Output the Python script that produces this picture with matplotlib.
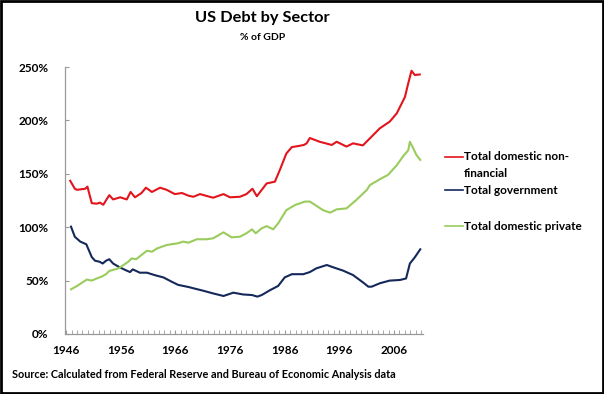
import matplotlib
matplotlib.use("Agg")
import matplotlib.pyplot as plt
from matplotlib.lines import Line2D
from matplotlib.patches import Rectangle
from matplotlib.ticker import FixedLocator, MultipleLocator, FuncFormatter

# ---- data ----
nonfin_years = [1946.75, 1947.6, 1948.0, 1949.5, 1949.9, 1950.7, 1951.6, 1952.2, 1952.8, 1953.9,
                1954.6, 1955.9, 1957.1, 1957.8, 1958.6, 1959.8, 1960.6, 1961.7, 1963.2, 1964.4,
                1965.9, 1967.2, 1968.4, 1969.3, 1970.5, 1972.9, 1974.8, 1976.0, 1977.8, 1979.0,
                1980.1, 1980.9, 1982.7, 1984.2, 1985.1, 1986.3, 1987.3, 1988.5, 1989.5, 1990.0,
                1990.6, 1992.4, 1994.6, 1995.5, 1997.3, 1998.5, 2000.3, 2001.9, 2003.4, 2005.2,
                2006.5, 2008.0, 2008.6, 2009.2, 2009.8, 2010.7]
nonfin_vals = [143.5, 136, 135, 136, 138, 122.5, 122, 123, 121, 130,
               126, 128, 126, 133, 128, 132, 137, 133, 137, 135,
               131, 132, 129.5, 128.5, 131, 127.6, 131, 128, 128.5, 131,
               136, 129, 141, 142.6, 153.5, 169, 175, 176, 177, 178.5,
               183.5, 180, 177, 180, 175.5, 178.5, 176.6, 184.8, 192.6, 198.8,
               206.6, 222, 234.7, 246.5, 242.5, 243]

gov_years = [1946.9, 1947.6, 1948.6, 1949.7, 1950.7, 1951.3, 1952.1, 1952.7, 1953.3, 1953.9,
             1954.6, 1955.6, 1956.8, 1957.7, 1958.2, 1959.5, 1960.8, 1962.3, 1963.8, 1965.3,
             1966.5, 1968.4, 1969.3, 1971.1, 1972.9, 1974.8, 1976.6, 1978.4, 1980.0, 1981.0,
             1981.8, 1983.3, 1984.8, 1986.0, 1987.3, 1989.4, 1990.6, 1991.8, 1993.7, 1994.9,
             1996.7, 1998.5, 2000.4, 2001.3, 2001.9, 2003.4, 2005.2, 2007.1, 2008.2, 2008.9,
             2009.8, 2010.8]
gov_vals = [100.5, 91, 86.5, 84, 72, 68.6, 67.7, 66, 68.6, 70,
            66, 63, 60, 58, 60.5, 57.4, 57.4, 55, 53, 49,
            46, 44, 42.8, 40.5, 38, 35.6, 38.7, 37, 36.5, 35,
            36.5, 41, 45, 53, 56, 56, 58, 61.5, 64.6, 62.4,
            59.3, 55.2, 48, 44.3, 44.3, 47.5, 50, 50.6, 52, 66,
            71.8, 79.3]

priv_years = [1946.9, 1948.0, 1948.9, 1949.8, 1950.7, 1951.6, 1952.5, 1953.3, 1953.9, 1954.6,
              1955.6, 1956.5, 1957.4, 1958.0, 1958.8, 1959.8, 1960.8, 1961.7, 1962.6, 1963.5,
              1964.4, 1965.6, 1966.5, 1967.4, 1968.4, 1969.9, 1971.7, 1972.9, 1974.8, 1976.3,
              1977.8, 1979.0, 1980.0, 1980.7, 1981.8, 1982.7, 1983.9, 1984.8, 1986.3, 1987.9,
              1989.7, 1990.6, 1991.8, 1993.0, 1994.3, 1995.5, 1997.3, 1999.1, 2001.0, 2001.6,
              2003.4, 2004.9, 2006.5, 2007.7, 2008.6, 2008.9, 2009.5, 2010.1, 2010.8]
priv_vals = [41.8, 45, 48, 51, 50, 52, 53.7, 56, 59, 60,
             61.5, 64.6, 67.7, 70.8, 70, 74, 78, 77, 80, 81.7,
             83.3, 84.3, 85, 86.5, 85.5, 88.7, 88.7, 89.6, 95.2, 90.5,
             91.1, 94.3, 98, 94.3, 99, 101, 98, 103.6, 116, 120.8,
             124, 124, 120, 116, 113.6, 116.7, 117.6, 125.5, 134.8, 139.5,
             144.9, 149, 158, 166.7, 172, 180, 174, 167.6, 163]

series_labels = ["Total domestic non-", "Total government", "Total domestic private"]
label_continuation = "financial"
tick_years = [1946, 1956, 1966, 1976, 1986, 1996, 2006]
y_ticks = [0, 50, 100, 150, 200, 250]

RED = "#E2141C"
NAVY = "#14285A"
GREEN = "#99CC5C"

plt.rcParams['font.family'] = ["Lato", "DejaVu Sans"]

fig = plt.figure(figsize=(6.04, 3.94), dpi=100)
ax = fig.add_axes([65/604, 1-334/394, (423-65)/604, (334-67)/394])

ax.plot(nonfin_years, nonfin_vals, color=RED, lw=1.5, solid_joinstyle="round")
ax.plot(gov_years, gov_vals, color=NAVY, lw=1.5, solid_joinstyle="round")
ax.plot(priv_years, priv_vals, color=GREEN, lw=1.5, solid_joinstyle="round")

ax.set_xlim(1945.8, 2011.3)
ax.set_ylim(0, 250)
for s in ["top", "right"]:
    ax.spines[s].set_visible(False)
for s in ["left", "bottom"]:
    ax.spines[s].set_color("#999999")
    ax.spines[s].set_linewidth(0.9)

ax.yaxis.set_major_locator(FixedLocator(y_ticks))
ax.yaxis.set_major_formatter(FuncFormatter(lambda v, p: f"{int(v)}%"))
ax.xaxis.set_major_locator(FixedLocator(tick_years))
ax.xaxis.set_minor_locator(MultipleLocator(1))
ax.tick_params(axis="y", direction="in", length=3, color="#999999", labelsize=8.5, pad=12)
ax.tick_params(axis="x", which="both", direction="in", length=3, color="#999999", labelsize=8.5, pad=8)
for lbl in ax.get_xticklabels() + ax.get_yticklabels():
    lbl.set_fontweight("bold")

fig.text(262/604, 1-18/394, "US Debt by Sector", ha="center", va="center", fontsize=11.8, fontweight="bold")
fig.text(263/604, 1-38/394, "% of GDP", ha="center", va="center", fontsize=7.5, fontweight="bold")
fig.text(12/604, 1-375/394, "Source: Calculated from Federal Reserve and Bureau of Economic Analysis data",
         ha="left", va="center", fontsize=7.8, fontweight="bold")

# legend drawn manually (Excel-style, handle aligned with first text line)
colors = [RED, NAVY, GREEN]
legend_rows = [157, 190, 226]
for text, col, ypix in zip(series_labels, colors, legend_rows):
    yf = 1 - ypix/394
    fig.add_artist(Line2D([445/604, 463/604], [yf, yf], color=col, lw=1.2, transform=fig.transFigure))
    fig.text(464/604, yf, text, ha="left", va="center", fontsize=8.5, fontweight="bold")
fig.text(464/604, 1 - 173/394, label_continuation, ha="left", va="center", fontsize=8.5, fontweight="bold")

fig.add_artist(Rectangle((0.002, 0.003), 0.996, 0.994, transform=fig.transFigure,
                         fill=False, edgecolor="black", lw=2))

fig.savefig("out.png", dpi=100)
